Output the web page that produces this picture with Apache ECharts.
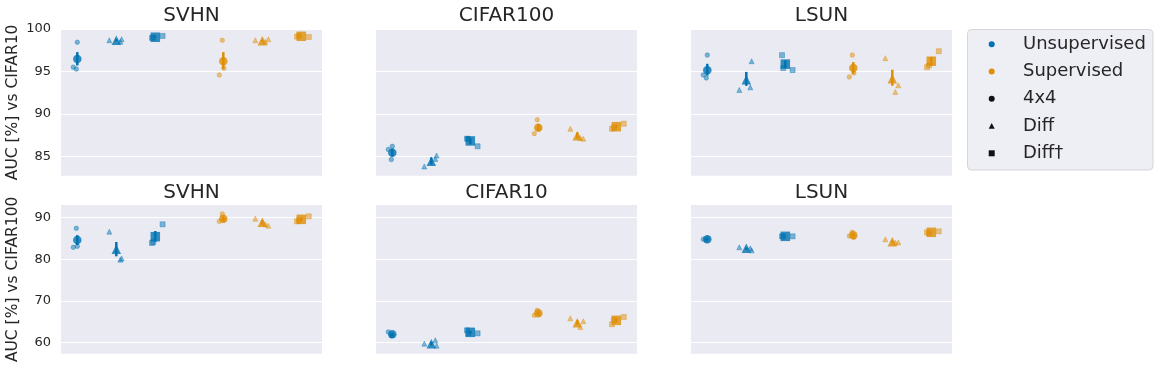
<!DOCTYPE html>
<html>
<head>
<meta charset="utf-8">
<script src="https://cdn.jsdelivr.net/npm/echarts@6/dist/echarts.min.js"></script>
<style>
html, body { margin: 0; background: #fff; }
#chart { width: 1160px; height: 373px; }
</style>
</head>
<body>
<div id="chart"></div>
<script>
const supervision = ['Unsupervised', 'Supervised']
const methods = ['4x4', 'Diff', 'Diff†']
const titles = ['SVHN', 'CIFAR100', 'LSUN', 'SVHN', 'CIFAR10', 'LSUN']
const yNames = ['AUC [%] vs CIFAR10', 'AUC [%] vs CIFAR100']
const yTicks = [[85, 90, 95, 100], [60, 70, 80, 90]]
const yRanges = [[82.7, 100], [57.27, 93.05]]

// group order: Unsup 4x4, Unsup Diff, Unsup Diff†, Sup 4x4, Sup Diff, Sup Diff†
// in-distribution CIFAR10
const runsC10Svhn = [[98.44, 95.5, 95.27], [98.67, 98.79, 98.5], [99.18, 98.95, 99.0], [98.67, 94.57, 95.38], [98.67, 98.79, 98.5], [99.06, 99.1, 99.2]]
const meansC10Svhn = [96.45, 98.67, 99.03, 96.2, 98.6, 99.14]
const ciC10Svhn = [[95.7, 97.27], [98.55, 98.78], [98.97, 99.1], [95.27, 97.27], [98.5, 98.72], [99.08, 99.2]]

const runsC10Cifar100 = [[86.17, 85.8, 84.6], [83.79, 85.08, 84.68], [86.17, 87.07, 87.0], [89.3, 87.66, 88.3], [88.24, 87.07, 87.15], [88.83, 88.24, 88.4]]
const meansC10Cifar100 = [85.42, 84.41, 86.8, 88.36, 87.4, 88.48]
const ciC10Cifar100 = [[85.0, 85.9], [84.0, 84.85], [86.4, 87.1], [87.95, 88.8], [87.1, 87.8], [88.3, 88.7]]

const runsC10Lsun = [[96.92, 94.57, 94.22], [92.81, 96.2, 93.12], [95.16, 96.92, 95.39], [96.92, 94.34, 94.8], [96.56, 93.36, 92.58], [97.38, 95.5, 95.7]]
const meansC10Lsun = [95.15, 94.02, 95.86, 95.39, 94.14, 96.2]
const ciC10Lsun = [[94.5, 95.9], [93.3, 94.94], [95.4, 96.3], [94.7, 96.1], [93.3, 95.2], [95.7, 96.7]]

// in-distribution CIFAR100
const runsC100Svhn = [[83.1, 82.86, 87.43], [86.63, 80.2, 79.9], [88.4, 83.9, 84.15], [90.9, 89.1, 89.4], [89.76, 88.08, 88.4], [90.32, 89.11, 89.4]]
const meansC100Svhn = [84.63, 82.38, 85.43, 89.76, 88.87, 89.6]
const ciC100Svhn = [[83.4, 85.8], [80.7, 84.15], [84.2, 86.8], [89.3, 90.3], [88.3, 89.4], [89.2, 90.0]]

const runsC100Cifar10 = [[61.7, 62.5, 61.6], [59.68, 59.2, 60.48], [62.17, 62.89, 62.2], [67.7, 66.5, 66.8], [65.78, 65.06, 63.7], [66.1, 64.34, 65.4]]
const meansC100Cifar10 = [61.93, 59.68, 62.41, 67.0, 64.73, 65.3]
const ciC100Cifar10 = [[61.5, 62.4], [59.3, 60.1], [62.1, 62.75], [66.6, 67.4], [64.2, 65.3], [64.8, 65.8]]

const runsC100Lsun = [[85.0, 84.8, 84.5], [82.86, 82.14, 82.62], [85.51, 85.51, 85.5], [86.48, 85.6, 85.3], [84.78, 84.06, 84.0], [86.71, 86.48, 86.25]]
const meansC100Lsun = [84.78, 82.62, 85.51, 85.76, 84.22, 86.48]
const ciC100Lsun = [[84.6, 84.95], [82.3, 82.8], [85.45, 85.55], [85.4, 86.2], [84.0, 84.5], [86.3, 86.65]]

const legendLabels = [...supervision, ...methods]

// styles / layout
const groupColors = ['#0173B2', '#DE8F05']
const groupFaded = ['rgba(1,115,178,0.6)', 'rgba(222,143,5,0.6)']
const symbols = ['circle', 'triangle', 'rect']
const meanSize = [8.5, 9.5, 9.5]
const stripSize = [4.5, 5, 5]
const jitterPx = [[0, -4, -1], [-7, 5.3, 4], [7.3, -3.3, -2], [-1, -4, 0.5], [-7, 6, 3], [7.5, -4.3, -2.3]]
const colLeft = [61, 376, 691]
const plotW = 261
const rowTop = [29, 205]
const rowBottom = [197.3, 19.3]
const pxPerUnit = 146
const step = 39 / pxPerUnit
const textColor = '#262626'
const font = 'DejaVu Sans'

const panels = [
    [runsC10Svhn, meansC10Svhn, ciC10Svhn],
    [runsC10Cifar100, meansC10Cifar100, ciC10Cifar100],
    [runsC10Lsun, meansC10Lsun, ciC10Lsun],
    [runsC100Svhn, meansC100Svhn, ciC100Svhn],
    [runsC100Cifar10, meansC100Cifar10, ciC100Cifar10],
    [runsC100Lsun, meansC100Lsun, ciC100Lsun]
]

let grids = [], xAxes = [], yAxes = [], series = []
panels.forEach(([runs, means, ci], i) => {
    let row = Math.floor(i / 3), col = i % 3
    grids.push({
        left: colLeft[col], width: plotW, top: rowTop[row], bottom: rowBottom[row],
        show: true, backgroundColor: '#EAEAF2', borderWidth: 0
    })
    xAxes.push({
        type: 'value', gridIndex: i, min: -55.3 / pxPerUnit, max: (plotW - 55.3) / pxPerUnit,
        axisLine: { show: false }, axisTick: { show: false }, axisLabel: { show: false }, splitLine: { show: false }
    })
    yAxes.push({
        type: 'value', gridIndex: i, min: yRanges[row][0], max: yRanges[row][1],
        name: col === 0 ? yNames[row] : '',
        nameLocation: 'middle', nameGap: 40.5,
        nameTextStyle: { fontSize: 15.5, color: textColor, fontFamily: font },
        axisLine: { show: false },
        axisTick: { show: false, customValues: yTicks[row] },
        axisLabel: { show: col === 0, customValues: yTicks[row], fontSize: 13, color: textColor, fontFamily: font, margin: 10 },
        splitLine: { show: true, lineStyle: { color: '#fff', width: 1 } }
    })

    let strip = [], meanPts = [], bars = []
    runs.forEach((vals, k) => {
        let g = Math.floor(k / 3), m = k % 3
        let x = g + (m - 1) * step
        vals.forEach((v, j) => {
            strip.push({
                value: [x + jitterPx[k][j] / pxPerUnit, v],
                symbol: symbols[m], symbolSize: stripSize[m],
                itemStyle: { color: groupFaded[g], borderColor: groupFaded[g], borderWidth: 0.8 }
            })
        })
        meanPts.push({
            value: [x, means[k]], symbol: symbols[m], symbolSize: meanSize[m],
            itemStyle: { color: groupColors[g] }
        })
        bars.push([x, ci[k][0], ci[k][1], g])
    })
    series.push({ type: 'scatter', xAxisIndex: i, yAxisIndex: i, data: strip, z: 2, silent: true })
    series.push({
        type: 'custom', xAxisIndex: i, yAxisIndex: i, data: bars, z: 3, silent: true,
        renderItem: (params, api) => {
            let a = api.coord([api.value(0), api.value(1)])
            let b = api.coord([api.value(0), api.value(2)])
            return {
                type: 'line',
                shape: { x1: a[0], y1: a[1], x2: b[0], y2: b[1] },
                style: { stroke: groupColors[api.value(3)], lineWidth: 2.5 }
            }
        }
    })
    series.push({ type: 'scatter', xAxisIndex: i, yAxisIndex: i, data: meanPts, z: 4, silent: true })
})

// legend drawn as a boxed list
let legendItems = [{
    type: 'rect', shape: { x: 967.5, y: 29.5, width: 185.5, height: 140.5, r: 4 },
    style: { fill: '#EEEEF5', stroke: '#D6D6D6', lineWidth: 1 }
}]
legendLabels.forEach((label, i) => {
    let cy = 44.3 + i * 27.25, cx = 991.7
    let color = i < 2 ? groupColors[i] : '#111'
    let shape = i < 3 ? 0 : i - 2
    if (shape === 0) {
        legendItems.push({ type: 'circle', shape: { cx: cx, cy: cy, r: 3 }, style: { fill: color } })
    } else if (shape === 1) {
        legendItems.push({ type: 'polygon', shape: { points: [[cx, cy - 3], [cx - 3, cy + 2.8], [cx + 3, cy + 2.8]] }, style: { fill: color } })
    } else {
        legendItems.push({ type: 'rect', shape: { x: cx - 3, y: cy - 3, width: 6, height: 6 }, style: { fill: color } })
    }
    legendItems.push({
        type: 'text', x: 1023, y: cy,
        style: { text: label, fontSize: 18, fontFamily: font, fill: textColor, verticalAlign: 'middle' }
    })
})

let chart = echarts.init(document.getElementById('chart'))
chart.setOption({
    animation: false,
    backgroundColor: '#fff',
    title: titles.map((t, i) => ({
        text: t,
        left: colLeft[i % 3] + plotW / 2,
        top: i < 3 ? 6 : 183,
        padding: 0,
        textAlign: 'center',
        textStyle: { fontSize: 20, fontWeight: 'normal', color: textColor, fontFamily: font }
    })),
    grid: grids,
    xAxis: xAxes,
    yAxis: yAxes,
    series: series,
    graphic: legendItems
})
</script>
</body>
</html>
